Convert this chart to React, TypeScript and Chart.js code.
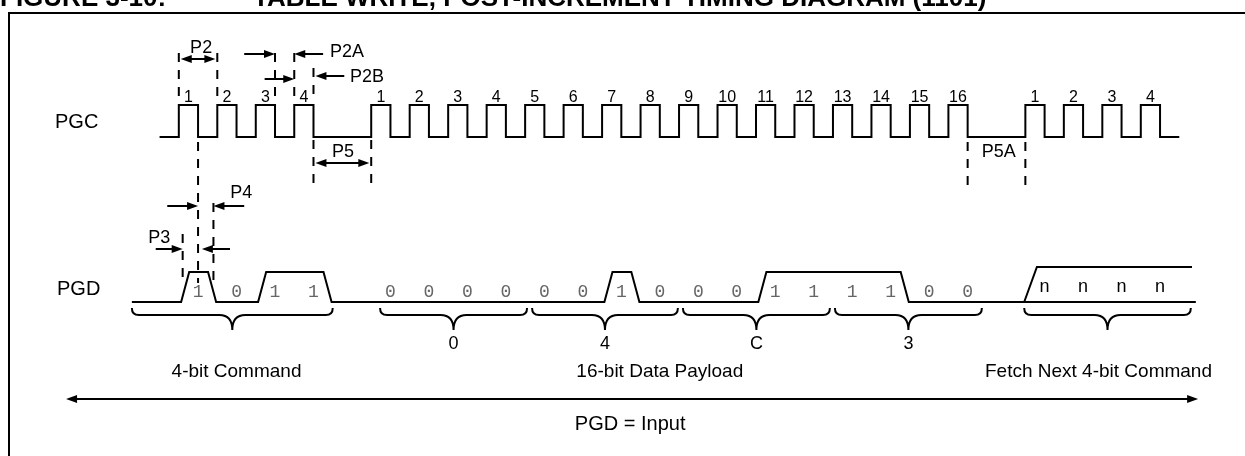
import React, { useEffect, useRef } from 'react';
import { Chart, registerables } from 'chart.js';

Chart.register(...registerables);

// ---------------- DATA ----------------
const clockRises = [0, 1, 2, 3, 5, 6, 7, 8, 9, 10, 11, 12, 13, 14, 15, 16, 17, 18, 19, 20, 22, 23, 24, 25];
const clockLabels = ['1', '2', '3', '4', '1', '2', '3', '4', '5', '6', '7', '8', '9', '10', '11', '12', '13', '14', '15', '16', '1', '2', '3', '4'];
const commandBits = [1, 0, 1, 1];
const payloadBits = [0, 0, 0, 0, 0, 0, 1, 0, 0, 0, 1, 1, 1, 1, 0, 0];
const nibbleLabels = ['0', '4', 'C', '3'];
const nextCommandLabels = ['n', 'n', 'n', 'n'];
const groupLabels = ['4-bit Command', '16-bit Data Payload', 'Fetch Next 4-bit Command'];
const commandClock0 = 0;
const payloadClock0 = 5;
const nextClock0 = 22;

// ---------------- LAYOUT (time units on x, pixel rows on y) ----------------
const T_MIN = -4.647;
const T_MAX = 27.708;
const PGC_LOW = 137;
const PGC_HIGH = 105;
const PGD_LOW = 302;
const PGD_HIGH = 272;
const PGD_N_HIGH = 267;
const CLK_START = -0.5;
const CLK_END = 26;
const PGD_START = -1.22;
const PGD_END = 26.43;
const N_TOP_END = 26.33;
const RISE_DELAY = 0.06;
const EDGE = 0.21;
const FALL_LEAD = 0.24;
const FONT = "'Liberation Sans', Arial, sans-serif";

function clockPoints() {
  const pts: { x: number; y: number }[] = [{ x: CLK_START, y: PGC_LOW }];
  clockRises.forEach((t) => {
    pts.push({ x: t, y: PGC_LOW }, { x: t, y: PGC_HIGH }, { x: t + 0.5, y: PGC_HIGH }, { x: t + 0.5, y: PGC_LOW });
  });
  pts.push({ x: CLK_END, y: PGC_LOW });
  return pts;
}

function pgdPoints() {
  const pts: { x: number; y: number }[] = [{ x: PGD_START, y: PGD_LOW }];
  const bits = [
    ...commandBits.map((b, i) => ({ clk: commandClock0 + i, b })),
    ...payloadBits.map((b, i) => ({ clk: payloadClock0 + i, b })),
  ];
  let i = 0;
  while (i < bits.length) {
    if (bits[i].b === 1) {
      let j = i;
      while (j + 1 < bits.length && bits[j + 1].b === 1 && bits[j + 1].clk === bits[j].clk + 1) j++;
      const s = bits[i].clk;
      const e = bits[j].clk + 1;
      pts.push(
        { x: s + RISE_DELAY, y: PGD_LOW },
        { x: s + RISE_DELAY + EDGE, y: PGD_HIGH },
        { x: e - FALL_LEAD, y: PGD_HIGH },
        { x: e - FALL_LEAD + EDGE, y: PGD_LOW }
      );
      i = j + 1;
    } else i++;
  }
  pts.push({ x: PGD_END, y: PGD_LOW });
  return pts;
}

function nTopPoints() {
  return [
    { x: nextClock0 - 0.03, y: PGD_LOW },
    { x: nextClock0 + 0.3, y: PGD_N_HIGH },
    { x: N_TOP_END, y: PGD_N_HIGH },
  ];
}

// dashed markers [t, y1, y2]
const DASHES: [number, number, number][] = [
  [0, 53, 100], [1, 53, 100], [2.5, 53, 100], [3, 53, 100], [3.5, 68, 100],
  [3.5, 140, 186], [5, 140, 186],
  [0.5, 142, 283], [0.9, 203, 283], [0.1, 234, 283],
  [20.5, 142, 186], [22, 142, 186],
];
// arrows [fromT, toT, y, double]
const ARROWS: [number, number, number, boolean][] = [
  [0.05, 0.95, 59, true],
  [1.7, 2.5, 54, false], [3.75, 3.0, 54, false],
  [2.23, 3.0, 79, false], [4.3, 3.55, 76, false],
  [3.55, 4.95, 163, true],
  [-0.3, 0.5, 206, false], [1.7, 0.9, 206, false],
  [-0.6, 0.1, 249, false], [1.33, 0.6, 249, false],
];
// labels [text, t, baseline, align]
const PLABELS: [string, number, number, CanvasTextAlign][] = [
  ['P2', 0.58, 53, 'center'],
  ['P2A', 3.93, 57, 'left'],
  ['P2B', 4.45, 82, 'left'],
  ['P5', 4.27, 157, 'center'],
  ['P5A', 21.31, 157, 'center'],
  ['P4', 1.62, 198, 'center'],
  ['P3', -0.51, 243, 'center'],
];
const BRACES: [number, number][] = [
  [-1.22, 4.0], [5.23, 9.05], [9.18, 12.97], [13.1, 16.92], [17.05, 20.87], [21.97, 26.3],
];
const GROUP_LABEL_T = [1.5, 12.5, 23.9];

const annotPlugin = {
  id: 'annot',
  afterDatasetsDraw(chart: any) {
    const ctx: CanvasRenderingContext2D = chart.ctx;
    const xs = chart.scales.x;
    const ys = chart.scales.y;
    const X = (t: number) => xs.getPixelForValue(t);
    const Y = (v: number) => ys.getPixelForValue(v);
    ctx.save();
    ctx.strokeStyle = '#000';
    ctx.fillStyle = '#000';
    ctx.lineWidth = 2;

    // frame
    ctx.beginPath();
    ctx.moveTo(9, 460);
    ctx.lineTo(9, 13);
    ctx.lineTo(1250, 13);
    ctx.stroke();

    // title (cut off at top)
    ctx.font = `bold 26px ${FONT}`;
    ctx.textAlign = 'left';
    ctx.textBaseline = 'alphabetic';
    ctx.fillText('FIGURE 3-10:', 0, 6);
    ctx.fillText('TABLE WRITE, POST-INCREMENT TIMING DIAGRAM (1101)', 253, 6);

    // dashed markers
    ctx.setLineDash([9, 8]);
    DASHES.forEach(([t, a, b]) => {
      ctx.beginPath();
      ctx.moveTo(X(t), Y(a));
      ctx.lineTo(X(t), Y(b));
      ctx.stroke();
    });
    ctx.setLineDash([]);

    const head = (tipX: number, y: number, dir: number) => {
      ctx.beginPath();
      ctx.moveTo(tipX, y);
      ctx.lineTo(tipX - dir * 11, y - 4);
      ctx.lineTo(tipX - dir * 11, y + 4);
      ctx.closePath();
      ctx.fill();
    };
    const arrow = (x1: number, x2: number, y: number, dbl: boolean) => {
      const dir = x2 > x1 ? 1 : -1;
      ctx.beginPath();
      ctx.moveTo(x1 + (dbl ? dir * 6 : 0), y);
      ctx.lineTo(x2 - dir * 6, y);
      ctx.stroke();
      head(x2, y, dir);
      if (dbl) head(x1, y, -dir);
    };
    ARROWS.forEach(([a, b, y, d]) => arrow(X(a), X(b), Y(y), d));

    // P labels
    ctx.font = `18px ${FONT}`;
    PLABELS.forEach(([s, t, y, al]) => {
      ctx.textAlign = al;
      ctx.fillText(s, X(t), Y(y));
    });

    // signal names
    ctx.font = `20px ${FONT}`;
    ctx.textAlign = 'left';
    ctx.fillText('PGC', 55, 128);
    ctx.fillText('PGD', 57, 295);

    // clock numbers
    ctx.font = `16px ${FONT}`;
    ctx.textAlign = 'center';
    clockRises.forEach((t, i) => ctx.fillText(clockLabels[i], X(t + 0.25), Y(102)));

    // bit values
    ctx.font = `18px 'Liberation Mono', monospace`;
    ctx.fillStyle = '#666666';
    commandBits.forEach((b, i) => ctx.fillText(String(b), X(commandClock0 + i + 0.5), Y(297)));
    payloadBits.forEach((b, i) => ctx.fillText(String(b), X(payloadClock0 + i + 0.5), Y(297)));
    ctx.fillStyle = '#000';
    ctx.font = `18px ${FONT}`;
    nextCommandLabels.forEach((s, i) => ctx.fillText(s, X(nextClock0 + i + 0.5), Y(292)));

    // braces
    const brace = (x1: number, x2: number) => {
      const top = Y(308), line = Y(315), cusp = Y(330);
      const xm = (x1 + x2) / 2, r = 13, hr = 7;
      ctx.beginPath();
      ctx.moveTo(x1, top);
      ctx.quadraticCurveTo(x1, line, x1 + hr, line);
      ctx.lineTo(xm - r, line);
      ctx.quadraticCurveTo(xm, line, xm, cusp);
      ctx.quadraticCurveTo(xm, line, xm + r, line);
      ctx.lineTo(x2 - hr, line);
      ctx.quadraticCurveTo(x2, line, x2, top);
      ctx.stroke();
    };
    BRACES.forEach(([a, b]) => brace(X(a), X(b)));
    ctx.font = `18px ${FONT}`;
    nibbleLabels.forEach((s, i) => {
      const [a, b] = BRACES[i + 1];
      ctx.fillText(s, (X(a) + X(b)) / 2, Y(349));
    });

    // group labels
    ctx.font = `19px ${FONT}`;
    groupLabels.forEach((s, i) => ctx.fillText(s, X(GROUP_LABEL_T[i]), Y(377)));

    // PGD = Input arrow
    ctx.beginPath();
    ctx.moveTo(X(-2.93) + 8, Y(399));
    ctx.lineTo(X(26.49) - 8, Y(399));
    ctx.stroke();
    head(X(26.49), Y(399), 1);
    head(X(-2.93), Y(399), -1);
    ctx.font = `20px ${FONT}`;
    ctx.fillText('PGD = Input', X(11.73), Y(430));
    ctx.restore();
  },
};

export default function App() {
  const ref = useRef<HTMLCanvasElement>(null);
  useEffect(() => {
    const lineDs = (data: { x: number; y: number }[]) => ({
      data,
      showLine: true,
      borderColor: '#000',
      borderWidth: 2,
      pointRadius: 0,
      fill: false,
      tension: 0,
    });
    const chart = new Chart(ref.current!, {
      type: 'scatter',
      data: { datasets: [lineDs(clockPoints()), lineDs(pgdPoints()), lineDs(nTopPoints())] as any },
      options: {
        responsive: false,
        animation: false,
        devicePixelRatio: 1,
        events: [],
        layout: { padding: 0 },
        plugins: { legend: { display: false }, tooltip: { enabled: false } },
        scales: {
          x: { type: 'linear', min: T_MIN, max: T_MAX, display: false },
          y: { type: 'linear', min: 0, max: 456, reverse: true, display: false },
        },
      },
      plugins: [annotPlugin],
    });
    return () => chart.destroy();
  }, []);
  return (
    <div style={{ position: 'absolute', left: 0, top: 0, width: 1245, height: 456, background: '#fff' }}>
      <canvas ref={ref} width={1245} height={456} style={{ display: 'block', width: 1245, height: 456 }} />
    </div>
  );
}
